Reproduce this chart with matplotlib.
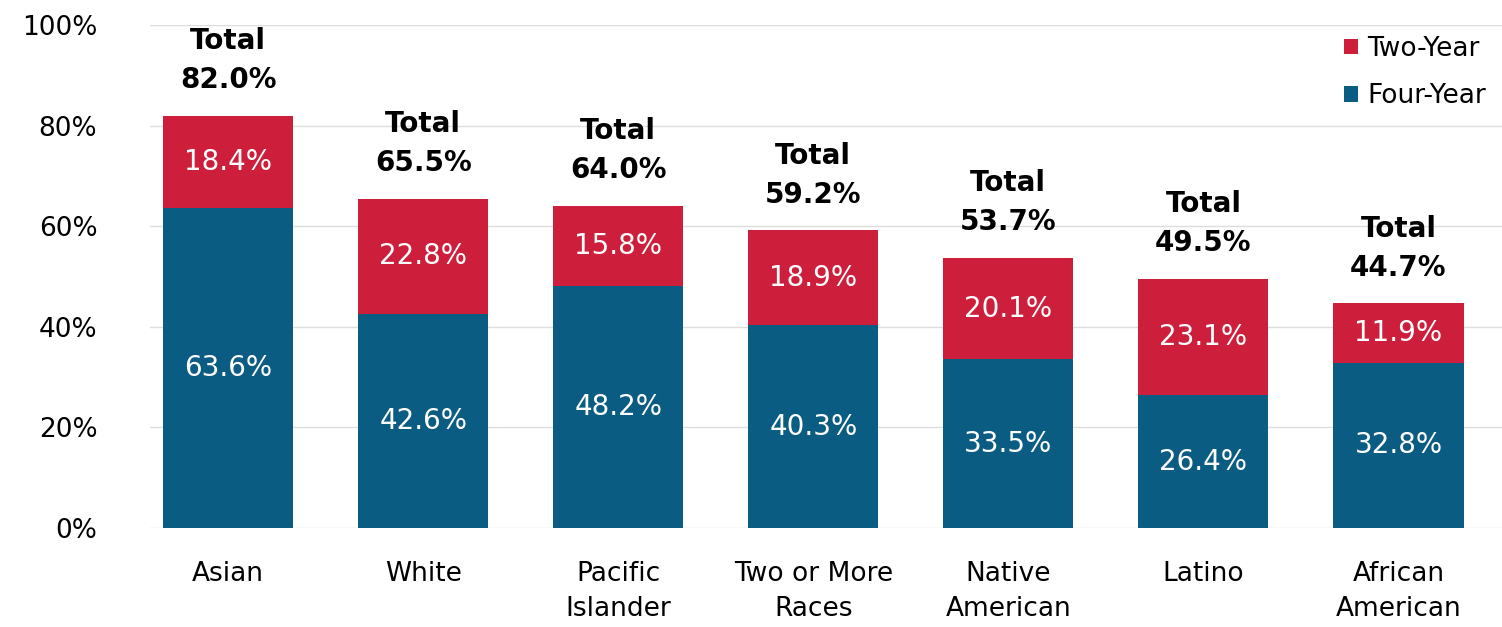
import matplotlib
matplotlib.use("Agg")
from matplotlib import pyplot as plt
import numpy as np

# dati
categories = ["Asian", "White", "Pacific\nIslander", "Two or More\nRaces",
              "Native\nAmerican", "Latino", "African\nAmerican"]
four_year = [63.6, 42.6, 48.2, 40.3, 33.5, 26.4, 32.8]
two_year = [18.4, 22.8, 15.8, 18.9, 20.1, 23.1, 11.9]
totals = [82.0, 65.5, 64.0, 59.2, 53.7, 49.5, 44.7]
yticks = [0, 20, 40, 60, 80, 100]

red = '#CD1F3B'
blue = '#0B5C82'

plt.rcParams['font.family'] = ['DejaVu Sans']

fig1 = plt.figure(figsize=(15.02, 6.27), dpi=100)
f1 = fig1.add_axes([0.0999, 0.158, 0.9, 0.802])

x = np.arange(len(categories))
w = 0.667
b4 = f1.bar(x, four_year, width=w, color=blue, label='Four-Year', zorder=2)
b2 = f1.bar(x, two_year, width=w, bottom=four_year, color=red, label='Two-Year', zorder=2)

for i in range(len(x)):
    f1.text(x[i], four_year[i] / 2, '%.1f%%' % four_year[i], color='white',
            ha='center', va='center', fontsize=20)
    f1.text(x[i], four_year[i] + two_year[i] / 2, '%.1f%%' % two_year[i], color='white',
            ha='center', va='center', fontsize=20)
    f1.text(x[i], totals[i] + 4.3, 'Total\n%.1f%%' % totals[i], color='black',
            ha='center', va='bottom', fontsize=20, fontweight='bold', linespacing=1.5)

f1.set_ylim(0, 100)
f1.set_xlim(-0.4, 6.53)
f1.set_yticks(yticks)
f1.set_yticklabels(['%d%%' % v for v in yticks], fontsize=19)
f1.set_xticks(x)
f1.set_xticklabels(categories, fontsize=19, linespacing=1.45)
f1.tick_params(axis='y', length=0, pad=38)
f1.tick_params(axis='x', length=0, pad=24)
f1.grid(True, axis='y', color='#dddddd', lw=1, zorder=0)
for s in f1.spines.values():
    s.set_visible(False)

f1.legend(handles=[b2, b4], loc='upper right', bbox_to_anchor=(1.0, 1.01), frameon=False,
          fontsize=19, handlelength=0.55, handleheight=0.55, handletextpad=0.35,
          labelspacing=0.8, borderaxespad=0.2)

fig1.savefig('out.png', dpi=100)
